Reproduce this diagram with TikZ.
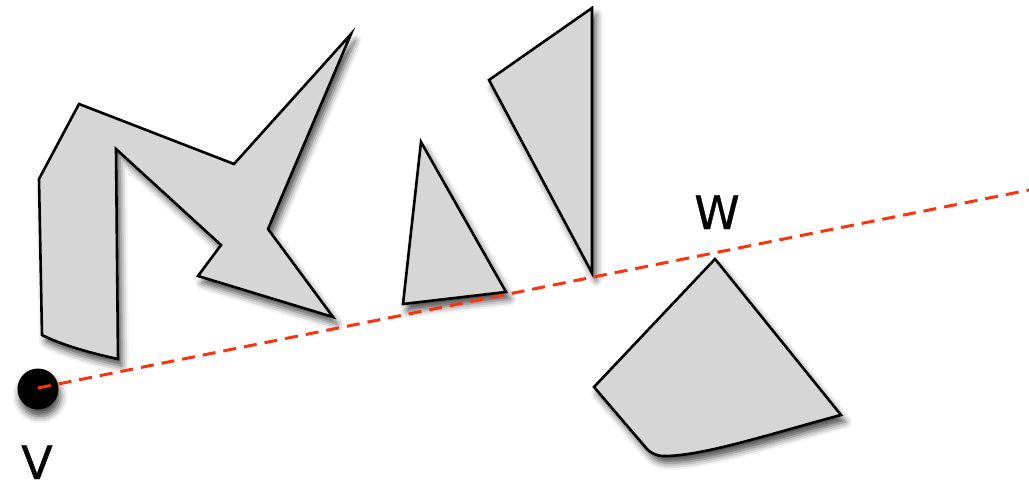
\documentclass[tikz,border=0pt]{standalone}
\usepackage{fontspec}
\setmainfont{DejaVu Sans}
\newfontfamily\labelfont[FakeBold=0.6]{DejaVu Sans}
\usetikzlibrary{shadows.blur}
\definecolor{ShapeGray}{RGB}{214,214,214}
\definecolor{RayRed}{RGB}{250,52,12}
\tikzset{
  obstacle/.style={
    draw=black,
    line width=2.6pt,
    fill=ShapeGray,
    line join=miter,
    blur shadow={shadow xshift=4pt,shadow yshift=-7pt,shadow blur radius=7pt,shadow opacity=70}
  },
  vertexdot/.style={
    circle,
    fill=black,
    minimum size=41pt,
    inner sep=0pt,
    blur shadow={shadow xshift=2pt,shadow yshift=-7pt,shadow blur radius=7pt,shadow opacity=70}
  },
  ray/.style={draw=RayRed,line width=3pt,dash pattern=on 13pt off 8pt},
  ptlabel/.style={font=\labelfont\fontsize{46}{50}\selectfont,inner sep=0pt,anchor=base}
}

\begin{document}
\begin{tikzpicture}[x=1pt,y=-1pt]
    \useasboundingbox (0,0) rectangle (1029,487);
    % obstacles
    \draw[obstacle] (79,104) -- (234,164) -- (351,34) -- (268,229) -- (333,317)
      -- (198,276) -- (221,245) -- (116,149) -- (118,359)
      .. controls (90,353) and (62,345) .. (42,335) -- (39,179) -- cycle;
    \draw[obstacle] (421,142) -- (506,292) -- (403,304) -- cycle;
    \draw[obstacle] (592,8) -- (489,80) -- (592,273) -- cycle;
    \draw[obstacle] (715,259) -- (841,415)
      .. controls (770,434) and (700,457) .. (662,456)
      .. controls (654,455) and (650,452) .. (647,449) -- (594,387) -- cycle;
    % ray from v, drawn over the dot
    \node[vertexdot] (v) at (38,389) {};
    \coordinate (far) at (1029,190);
    \draw[ray] ([yshift=1pt]v.center) -- (far);
    \node[ptlabel] (vtext) at (37,479) {V};
    \node[ptlabel] (wtext) at (717,229) {W};
\end{tikzpicture}
\end{document}
